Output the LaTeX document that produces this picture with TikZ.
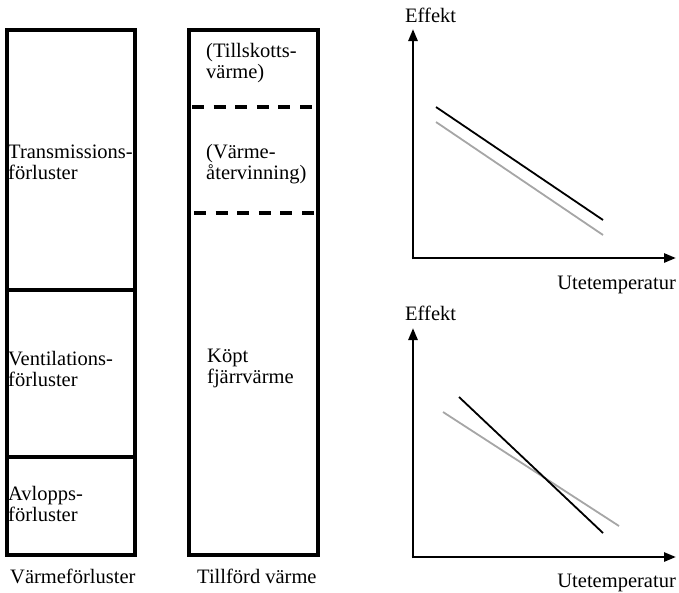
\documentclass[tikz,border=0pt]{standalone}
\usepackage{fontspec}
\setmainfont{Liberation Serif}
\usetikzlibrary{arrows.meta,calc}
\begin{document}
\begin{tikzpicture}[x=1pt,y=-1pt,
  boxline/.style={line width=3.2pt,line join=miter},
  dashline/.style={line width=3.2pt,dash pattern=on 12pt off 9.6pt},
  axis/.style={line width=2.6pt,-{Triangle[length=12pt,width=9pt]}},
  blk/.style={line width=1.8pt,black},
  gry/.style={line width=1.8pt,color=black!35},
  lbl/.style={inner sep=0pt,anchor=base west,align=left,font=\fontsize{20.5}{21}\selectfont},
  lblr/.style={inner sep=0pt,anchor=base east,font=\fontsize{20.5}{21}\selectfont}]
\useasboundingbox (0,0) rectangle (679,592);
% left column
\draw[boxline] (7,30) rectangle (135,555);
\draw[boxline] (7,290) -- (135,290);
\draw[boxline] (7,457) -- (137,457);
% middle column
\draw[boxline] (189,30) rectangle (318,555);
\draw[dashline] (192,107) -- (313,107);
\draw[dashline] (194,213) -- (315,213);
% labels (base anchor = baseline of the last line)
\node[lbl] (trans) at (8,179) {Transmissions-\\förluster};
\node[lbl] (vent) at (8,386) {Ventilations-\\förluster};
\node[lbl] (avl) at (8,521) {Avlopps-\\förluster};
\node[lbl] (vf) at (10,583) {Värmeförluster};
\node[lbl] (till) at (206,78) {(Tillskotts-\\värme)};
\node[lbl] (aterv) at (206,179) {(Värme-\\återvinning)};
\node[lbl] (kopt) at (207,383) {Köpt\\fjärrvärme};
\node[lbl] (tv) at (197,583) {Tillförd värme};
% top graph
\coordinate (o1) at (413,258);
\coordinate (y1) at (413,29);
\coordinate (x1) at (676,258);
\draw[axis] ($(o1)+(0,1.3)$) -- (y1);
\draw[axis] ($(o1)-(1.3,0)$) -- (x1);
\node[lbl] (eff1) at (405,22) {Effekt};
\node[lblr] (ute1) at (676,289) {Utetemperatur};
\coordinate (a1) at (436,107);
\coordinate (b1) at (603,220);
\coordinate (c1) at (436,122);
\coordinate (d1) at (603,235);
\draw[gry] (c1) -- (d1);
\draw[blk] (a1) -- (b1);
% bottom graph
\coordinate (o2) at (413,557);
\coordinate (y2) at (413,328);
\coordinate (x2) at (676,557);
\draw[axis] ($(o2)+(0,1.3)$) -- (y2);
\draw[axis] ($(o2)-(1.3,0)$) -- (x2);
\node[lbl] (eff2) at (405,320) {Effekt};
\node[lblr] (ute2) at (676,587) {Utetemperatur};
\coordinate (a2) at (459,397);
\coordinate (b2) at (603,533);
\coordinate (c2) at (443,412);
\coordinate (d2) at (619,526);
\draw[gry] (c2) -- (d2);
\draw[blk] (a2) -- (b2);
\end{tikzpicture}
\end{document}
